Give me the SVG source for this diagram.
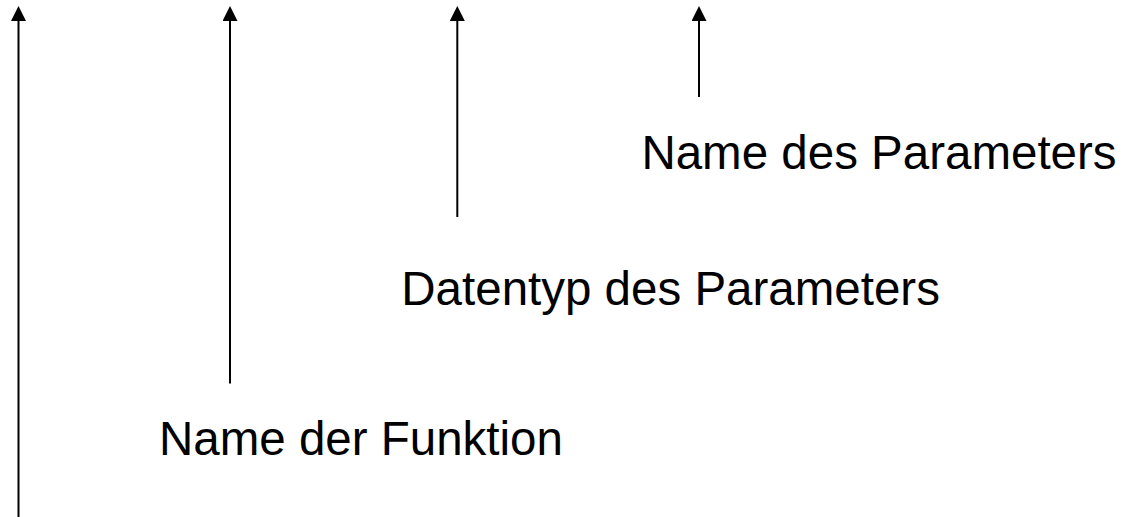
<svg xmlns="http://www.w3.org/2000/svg" width="1124" height="517" viewBox="0 0 1124 517">
  <defs>
    <marker id="arrow" markerUnits="userSpaceOnUse" markerWidth="15" markerHeight="15" viewBox="0 0 15 15" refX="0" refY="7.5" orient="auto">
      <path d="M0,0 L15,7.5 L0,15 z" fill="#000"/>
    </marker>
    <style>
      .conn { stroke: #000; stroke-width: 2; fill: none; marker-end: url(#arrow); }
      .label { font-family: "Liberation Sans", Arial, sans-serif; font-size: 47.5px; fill: #000; }
    </style>
  </defs>
  <rect width="1124" height="517" fill="#fff"/>
  <g id="connectors">
    <line class="conn" x1="18.5" y1="517" x2="18.5" y2="21"/>
    <line class="conn" x1="230" y1="383.5" x2="230" y2="21"/>
    <line class="conn" x1="457.3" y1="217" x2="457.3" y2="21"/>
    <line class="conn" x1="699" y1="97" x2="699" y2="21"/>
  </g>
  <g id="label-name-parameter">
    <text class="label" x="641.4" y="169.3">Name des Parameters</text>
  </g>
  <g id="label-datentyp">
    <text class="label" x="401.3" y="304.5">Datentyp des Parameters</text>
  </g>
  <g id="label-name-funktion">
    <text class="label" x="159" y="455">Name der Funktion</text>
  </g>
</svg>
